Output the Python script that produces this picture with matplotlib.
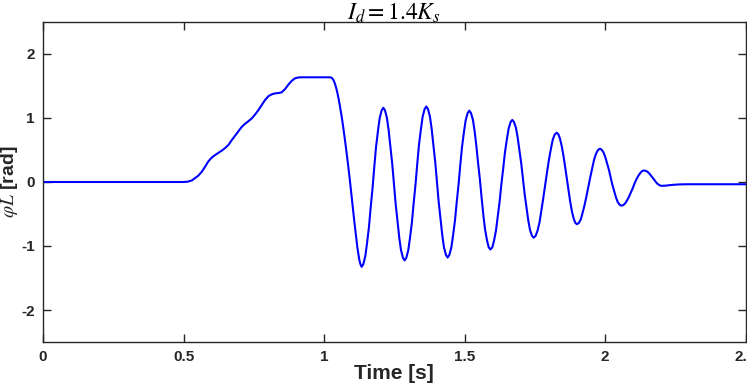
import matplotlib
matplotlib.use("Agg")
import matplotlib.pyplot as plt

plt.rcParams['font.family'] = ['Liberation Sans', 'DejaVu Sans']
plt.rcParams['mathtext.fontset'] = 'stix'
plt.rcParams['axes.unicode_minus'] = False

# ---- data ----
t_rise = [0.0, 0.50, 0.515, 0.53, 0.541, 0.553, 0.565, 0.577, 0.588, 0.600, 0.612,
          0.624, 0.636, 0.648, 0.660, 0.671, 0.683, 0.695, 0.707, 0.719, 0.731,
          0.742, 0.754, 0.766, 0.778, 0.790, 0.802, 0.814, 0.826, 0.838, 0.849,
          0.861, 0.873, 0.885, 0.897, 0.909, 0.921, 1.020]
y_rise = [0.0, 0.0, 0.005, 0.025, 0.06, 0.10, 0.16, 0.24, 0.32, 0.38, 0.42,
          0.455, 0.49, 0.53, 0.58, 0.65, 0.72, 0.79, 0.86, 0.91, 0.95,
          0.99, 1.05, 1.12, 1.20, 1.28, 1.34, 1.37, 1.385, 1.39, 1.40,
          1.45, 1.52, 1.58, 1.62, 1.634, 1.636, 1.636]

t_drop = [1.024, 1.028, 1.032, 1.036, 1.040, 1.044, 1.048, 1.052, 1.056, 1.060,
          1.064, 1.068, 1.076, 1.084, 1.092, 1.100, 1.108, 1.112, 1.116, 1.119,
          1.122, 1.125, 1.128, 1.131, 1.134]
y_drop = [1.634, 1.625, 1.605, 1.57, 1.52, 1.46, 1.385, 1.30, 1.205, 1.10,
          0.99, 0.87, 0.61, 0.33, 0.03, -0.30, -0.62, -0.77, -0.92, -1.03,
          -1.12, -1.20, -1.26, -1.30, -1.325]

t_osc = [1.140, 1.147, 1.153, 1.160, 1.166, 1.173, 1.179, 1.185, 1.192, 1.198, 1.205, 1.211,
         1.217, 1.224, 1.230, 1.236, 1.243, 1.249, 1.255, 1.262, 1.268, 1.274, 1.281, 1.287,
         1.293, 1.300, 1.306, 1.313, 1.319, 1.326, 1.332, 1.338, 1.345, 1.351, 1.358, 1.364,
         1.370, 1.377, 1.383, 1.389, 1.396, 1.402, 1.408, 1.415, 1.421, 1.427, 1.434, 1.440,
         1.446, 1.453, 1.459, 1.466, 1.472, 1.479, 1.485, 1.491, 1.498, 1.504, 1.511, 1.517,
         1.523, 1.530, 1.536, 1.542, 1.548, 1.555, 1.561, 1.567, 1.573, 1.580, 1.586, 1.592,
         1.599, 1.605, 1.612, 1.618, 1.625, 1.631, 1.638, 1.644, 1.651, 1.657, 1.664, 1.670,
         1.676, 1.683, 1.689, 1.695, 1.702, 1.708, 1.714, 1.721, 1.727, 1.733, 1.740, 1.746,
         1.753, 1.760, 1.767, 1.773, 1.780, 1.787, 1.794, 1.801, 1.808, 1.814, 1.821, 1.828,
         1.834, 1.840, 1.846, 1.852, 1.858, 1.864, 1.870, 1.876, 1.882, 1.888, 1.894, 1.900,
         1.907, 1.914, 1.920, 1.927, 1.934, 1.941, 1.948, 1.955, 1.961, 1.968, 1.975, 1.982,
         1.988, 1.995, 2.001, 2.007, 2.014, 2.020, 2.026, 2.033, 2.039, 2.045, 2.052, 2.058,
         2.065, 2.072, 2.078, 2.085, 2.092, 2.099, 2.105, 2.112, 2.119, 2.126, 2.132, 2.139,
         2.144, 2.150, 2.155, 2.160, 2.165, 2.171, 2.176, 2.181, 2.186, 2.192, 2.197, 2.202]
y_osc = [-1.283, -1.159, -0.961, -0.704, -0.404, -0.083, 0.239, 0.539, 0.796, 0.994, 1.118, 1.160,
         1.119, 1.000, 0.811, 0.564, 0.276, -0.033, -0.341, -0.629, -0.876, -1.065, -1.184, -1.225,
         -1.184, -1.064, -0.873, -0.624, -0.334, -0.023, 0.289, 0.579, 0.828, 1.019, 1.139, 1.180,
         1.140, 1.022, 0.834, 0.590, 0.305, 0.000, -0.305, -0.590, -0.834, -1.022, -1.140, -1.180,
         -1.141, -1.026, -0.844, -0.606, -0.330, -0.033, 0.265, 0.541, 0.779, 0.961, 1.076, 1.115,
         1.078, 0.970, 0.797, 0.573, 0.311, 0.030, -0.251, -0.513, -0.737, -0.910, -1.018, -1.055,
         -1.021, -0.919, -0.758, -0.549, -0.305, -0.043, 0.220, 0.464, 0.673, 0.834, 0.936, 0.970,
         0.939, 0.847, 0.701, 0.510, 0.288, 0.050, -0.188, -0.410, -0.601, -0.747, -0.839, -0.870,
         -0.842, -0.760, -0.630, -0.460, -0.262, -0.050, 0.162, 0.360, 0.530, 0.660, 0.742, 0.770,
         0.746, 0.674, 0.561, 0.413, 0.240, 0.055, -0.130, -0.303, -0.451, -0.564, -0.636, -0.660,
         -0.640, -0.581, -0.487, -0.365, -0.223, -0.070, 0.083, 0.225, 0.347, 0.441, 0.500, 0.520,
         0.505, 0.460, 0.390, 0.298, 0.190, 0.075, -0.040, -0.148, -0.240, -0.310, -0.355, -0.370,
         -0.361, -0.333, -0.290, -0.233, -0.166, -0.095, -0.024, 0.043, 0.100, 0.143, 0.171, 0.180,
         0.176, 0.164, 0.145, 0.120, 0.091, 0.060, 0.029, 0.000, -0.025, -0.044, -0.056, -0.060]

t_tail = [2.212, 2.225, 2.24, 2.26, 2.28, 2.30, 2.50]
y_tail = [-0.058, -0.052, -0.045, -0.039, -0.036, -0.035, -0.035]

time = t_rise + t_drop + t_osc + t_tail
phiL = y_rise + y_drop + y_osc + y_tail

xticks = [0, 0.5, 1, 1.5, 2, 2.5]
xticklabels = ['0', '0.5', '1', '1.5', '2', '2.5']
yticks = [-2, -1, 0, 1, 2]

# ---- figure ----
fig = plt.figure(figsize=(7.47, 3.85), dpi=100)
ax = fig.add_axes([43/747, 1-342/385, (745.5-43)/747, (342-22)/385])
ax.plot(time, phiL, color=(0, 0, 1), lw=1.5, solid_joinstyle='round')

ax.set_xlim(0, 2.5)
ax.set_ylim(-2.5, 2.5)
ax.set_xticks(xticks)
ax.set_xticklabels(xticklabels)
ax.set_yticks(yticks)
ax.tick_params(direction='in', length=6, width=1, top=True, right=True,
               labelsize=11, colors=(0.15, 0.15, 0.15), pad=6)
for lab in ax.get_xticklabels() + ax.get_yticklabels():
    lab.set_fontweight('bold')
for s in ax.spines.values():
    s.set_color((0.15, 0.15, 0.15))
    s.set_linewidth(1.0)

ax.set_xlabel('Time [s]', fontsize=15, fontweight='bold', labelpad=0,
              color=(0.15, 0.15, 0.15))
ax.set_ylabel(r'$\varphi L$ [rad]', fontsize=14, fontweight='bold',
              color=(0.15, 0.15, 0.15))
ax.yaxis.set_label_coords(-0.033, 0.5)
ax.set_title(r'$I_d = 1.4K_s$', fontsize=17, pad=2)

fig.savefig('out.png', dpi=100)
